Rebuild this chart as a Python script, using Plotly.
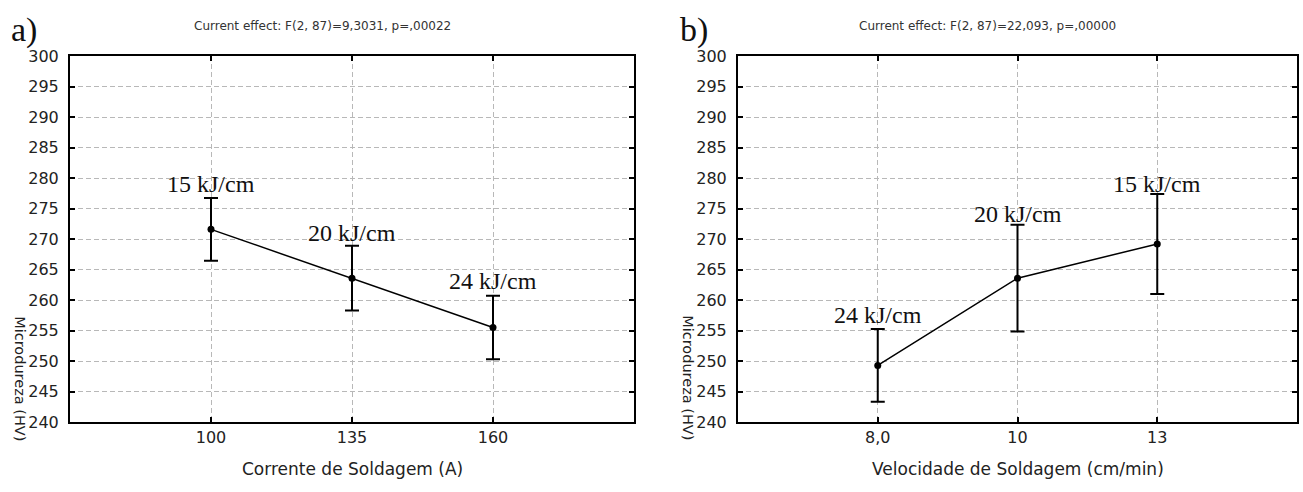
import plotly.graph_objects as go

# ---- data ----
cur_a = ["100", "135", "160"]            # Corrente de Soldagem (A)
hv_a = [271.6, 263.6, 255.5]             # Microdureza (HV)
err_a = [5.15, 5.3, 5.2]
lab_a = ["15 kJ/cm", "20 kJ/cm", "24 kJ/cm"]
lab_a_y = [279.1, 271.0, 263.1]

vel_b = ["8,0", "10", "13"]              # Velocidade de Soldagem (cm/min)
hv_b = [249.3, 263.6, 269.2]
err_b = [5.95, 8.75, 8.2]
lab_b = ["24 kJ/cm", "20 kJ/cm", "15 kJ/cm"]
lab_b_y = [257.6, 274.1, 279.1]

yticks = list(range(240, 301, 5))
title_a = "Current effect: F(2, 87)=9,3031, p=,00022"
title_b = "Current effect: F(2, 87)=22,093, p=,00000"

W, H = 1303, 492
def px(x): return x / W
def py(y): return 1 - y / H

SANS = "DejaVu Sans"
SERIF = "Liberation Serif"

fig = go.Figure()
for xs, ys, es, xa, ya in [(cur_a, hv_a, err_a, "x", "y"), (vel_b, hv_b, err_b, "x2", "y2")]:
    fig.add_trace(go.Scatter(
        x=xs, y=ys, xaxis=xa, yaxis=ya, mode="lines+markers",
        line=dict(color="black", width=1.5),
        marker=dict(color="black", size=7),
        error_y=dict(type="data", array=es, visible=True, color="black", thickness=2, width=7),
        showlegend=False, hoverinfo="skip"))

axis_common = dict(
    showline=True, linecolor="black", linewidth=2, mirror="ticks",
    ticks="inside", ticklen=5, tickwidth=1.5, tickcolor="black",
    showgrid=True, gridcolor="#b8b8b8", gridwidth=1, griddash="5px,3px",
    zeroline=False, tickfont=dict(family=SANS, size=16, color="#222"),
    fixedrange=True,
)
yd = [py(429.7), py(49)]
fig.update_layout(
    width=W, height=H, autosize=False,
    margin=dict(l=0, r=0, t=0, b=0),
    paper_bgcolor="white", plot_bgcolor="white",
    xaxis=dict(domain=[px(70), px(634)], type="category", range=[-1, 3], anchor="y",
               categoryorder="array", categoryarray=cur_a, **axis_common),
    yaxis=dict(domain=yd, range=[240, 300], tickvals=yticks, anchor="x",
               ticklabelstandoff=6, **axis_common),
    xaxis2=dict(domain=[px(738), px(1297)], type="category", range=[-1, 3], anchor="y2",
                categoryorder="array", categoryarray=vel_b, **axis_common),
    yaxis2=dict(domain=yd, range=[240, 300], tickvals=yticks, anchor="x2",
                ticklabelstandoff=6, **axis_common),
)

ann = []
for xs, ys, labs, xr, yr in [(cur_a, lab_a_y, lab_a, "x", "y"), (vel_b, lab_b_y, lab_b, "x2", "y2")]:
    for i, (y, t) in enumerate(zip(ys, labs)):
        ann.append(dict(x=i, y=y, xref=xr, yref=yr, text=t, showarrow=False,
                        font=dict(family=SERIF, size=24, color="#111"),
                        xanchor="center", yanchor="middle"))
ann.append(dict(x=px(322), y=py(18), xref="paper", yref="paper", text=title_a, showarrow=False,
                font=dict(family=SANS, size=12, color="#333"), xanchor="center", yanchor="middle"))
ann.append(dict(x=px(988), y=py(18), xref="paper", yref="paper", text=title_b, showarrow=False,
                font=dict(family=SANS, size=12, color="#333"), xanchor="center", yanchor="middle"))
ann.append(dict(x=px(24), y=py(22), xref="paper", yref="paper", text="a)", showarrow=False,
                font=dict(family=SERIF, size=34, color="#111"), xanchor="center", yanchor="middle"))
ann.append(dict(x=px(694), y=py(22), xref="paper", yref="paper", text="b)", showarrow=False,
                font=dict(family=SERIF, size=34, color="#111"), xanchor="center", yanchor="middle"))
ann.append(dict(x=px(352), y=py(478), xref="paper", yref="paper", text="Corrente de Soldagem (A)",
                showarrow=False, font=dict(family=SANS, size=17, color="#222"),
                xanchor="center", yanchor="middle"))
ann.append(dict(x=px(1018), y=py(478), xref="paper", yref="paper", text="Velocidade de Soldagem (cm/min)",
                showarrow=False, font=dict(family=SANS, size=17, color="#222"),
                xanchor="center", yanchor="middle"))
for xc in (20, 688):
    ann.append(dict(x=px(xc), y=py(384), xref="paper", yref="paper", text="Microdureza (HV)",
                    showarrow=False, textangle=90, font=dict(family=SANS, size=14.5, color="#222"),
                    xanchor="center", yanchor="middle"))
fig.update_layout(annotations=ann)

post = "document.body.style.margin='0';document.body.style.overflow='hidden';"
fig.write_html("out.html", post_script=post, config={"displayModeBar": False})
